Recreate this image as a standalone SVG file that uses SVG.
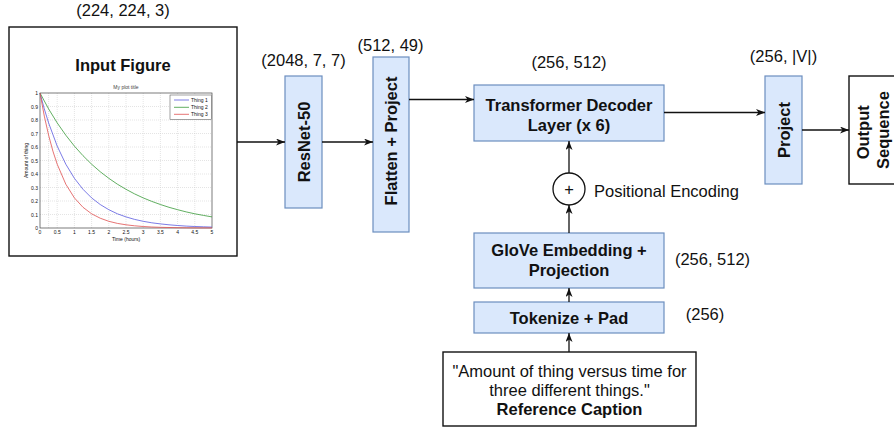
<svg xmlns="http://www.w3.org/2000/svg" width="894" height="427" viewBox="0 0 894 427">
  <style>
    text { font-family: "Liberation Sans", Arial, sans-serif; fill: #111; }
    .lbl { font-size: 16.5px; text-anchor: middle; }
    .b { font-weight: bold; }
    .blk { fill: #dae8fc; stroke: #6c8ebf; stroke-width: 1.2; }
    .wbox { fill: #fff; stroke: #111; stroke-width: 1.4; }
    .edge { fill: none; stroke: #111; stroke-width: 1.3; marker-end: url(#arrow); }
    .grid { stroke: #c8c8c8; stroke-width: 0.5; stroke-dasharray: 1 1; }
    .tick { font-size: 5px; fill: #444; }
    .curve { fill: none; stroke-width: 0.8; }
  </style>
  <defs>
    <marker id="arrow" markerUnits="userSpaceOnUse" markerWidth="10" markerHeight="8" refX="9" refY="3.5" orient="auto">
      <path d="M0,0 L9,3.5 L0,7 L2.5,3.5 Z" fill="#111"/>
    </marker>
  </defs>

  <!-- shape annotations -->
  <g id="shapes">
    <text class="lbl" x="123" y="16">(224, 224, 3)</text>
    <text class="lbl" x="303.5" y="66">(2048, 7, 7)</text>
    <text class="lbl" x="390.5" y="51">(512, 49)</text>
    <text class="lbl" x="569" y="68">(256, 512)</text>
    <text class="lbl" x="783.5" y="62">(256, |V|)</text>
    <text class="lbl" x="712.5" y="265">(256, 512)</text>
    <text class="lbl" x="705" y="320">(256)</text>
  </g>

  <!-- input image with sample plot -->
  <g id="input-figure">
    <rect class="wbox" x="9" y="27" width="228" height="229"/>
    <text class="lbl b" x="123" y="70.5">Input Figure</text>
    <text x="126" y="88.5" style="font-size:5px;fill:#444;text-anchor:middle">My plot title</text>
    <g>
      <line class="grid" x1="48.6" y1="93" x2="48.6" y2="228"/>
      <line class="grid" x1="57.2" y1="93" x2="57.2" y2="228"/>
      <line class="grid" x1="74.4" y1="93" x2="74.4" y2="228"/>
      <line class="grid" x1="91.6" y1="93" x2="91.6" y2="228"/>
      <line class="grid" x1="108.8" y1="93" x2="108.8" y2="228"/>
      <line class="grid" x1="126" y1="93" x2="126" y2="228"/>
      <line class="grid" x1="143.2" y1="93" x2="143.2" y2="228"/>
      <line class="grid" x1="160.4" y1="93" x2="160.4" y2="228"/>
      <line class="grid" x1="177.6" y1="93" x2="177.6" y2="228"/>
      <line class="grid" x1="194.8" y1="93" x2="194.8" y2="228"/>
      <line class="grid" x1="40" y1="214.5" x2="212" y2="214.5"/>
      <line class="grid" x1="40" y1="201" x2="212" y2="201"/>
      <line class="grid" x1="40" y1="187.5" x2="212" y2="187.5"/>
      <line class="grid" x1="40" y1="174" x2="212" y2="174"/>
      <line class="grid" x1="40" y1="160.5" x2="212" y2="160.5"/>
      <line class="grid" x1="40" y1="147" x2="212" y2="147"/>
      <line class="grid" x1="40" y1="133.5" x2="212" y2="133.5"/>
      <line class="grid" x1="40" y1="120" x2="212" y2="120"/>
      <line class="grid" x1="40" y1="106.5" x2="212" y2="106.5"/>
    </g>
    <rect x="40" y="93" width="172" height="135" fill="none" stroke="#444" stroke-width="0.7"/>
    <g class="tick" text-anchor="end">
      <text x="38" y="95">1</text>
      <text x="38" y="108.5">0.9</text>
      <text x="38" y="122">0.8</text>
      <text x="38" y="135.5">0.7</text>
      <text x="38" y="149">0.6</text>
      <text x="38" y="162.5">0.5</text>
      <text x="38" y="176">0.4</text>
      <text x="38" y="189.5">0.3</text>
      <text x="38" y="203">0.2</text>
      <text x="38" y="216.5">0.1</text>
      <text x="38" y="230">0</text>
    </g>
    <g class="tick" text-anchor="middle">
      <text x="40" y="234">0</text>
      <text x="57.2" y="234">0.5</text>
      <text x="74.4" y="234">1</text>
      <text x="91.6" y="234">1.5</text>
      <text x="108.8" y="234">2</text>
      <text x="126" y="234">2.5</text>
      <text x="143.2" y="234">3</text>
      <text x="160.4" y="234">3.5</text>
      <text x="177.6" y="234">4</text>
      <text x="194.8" y="234">4.5</text>
      <text x="212" y="234">5</text>
      <text x="126" y="241">Time (hours)</text>
      <text x="28" y="160.5" transform="rotate(-90 28 160.5)">Amount of thing</text>
    </g>
    <polyline class="curve" stroke="#5a5ae0" points="40,93 44.3,108.9 48.6,122.9 57.2,146.1 65.8,164.2 74.4,178.3 83,189.3 91.6,197.9 100.2,204.5 108.8,209.7 117.4,213.8 126,216.9 134.6,219.4 143.2,221.3 151.8,222.8 160.4,223.9 169,224.8 177.6,225.5 186.2,226.1 194.8,226.5 203.4,226.8 212,227.1"/>
    <polyline class="curve" stroke="#3a9a3a" points="40,93 48.6,108.9 57.2,122.9 65.8,135.2 74.4,146.1 83,155.7 91.6,164.2 100.2,171.7 108.8,178.3 117.4,184.2 126,189.3 134.6,193.9 143.2,197.9 151.8,201.4 160.4,204.5 169,207.3 177.6,209.7 186.2,211.9 194.8,213.8 203.4,215.4 212,216.9"/>
    <polyline class="curve" stroke="#e05050" points="40,93 44.3,116.1 48.6,135.2 52.9,151.1 57.2,164.2 65.8,184.2 74.4,197.9 83,207.3 91.6,213.8 100.2,218.2 108.8,221.3 117.4,223.4 126,224.8 134.6,225.8 143.2,226.5 151.8,227 160.4,227.3 169,227.5 177.6,227.7 186.2,227.8 194.8,227.9 212,227.9"/>
    <rect x="170" y="95" width="41.5" height="24.5" fill="#fff" stroke="#444" stroke-width="0.5"/>
    <line x1="174" y1="100" x2="189" y2="100" stroke="#5a5ae0" stroke-width="0.8"/>
    <line x1="174" y1="107.3" x2="189" y2="107.3" stroke="#3a9a3a" stroke-width="0.8"/>
    <line x1="174" y1="114.3" x2="189" y2="114.3" stroke="#e05050" stroke-width="0.8"/>
    <g class="tick">
      <text x="191" y="101.8">Thing 1</text>
      <text x="191" y="109">Thing 2</text>
      <text x="191" y="116">Thing 3</text>
    </g>
  </g>

  <g id="resnet">
    <rect class="blk" x="285" y="76" width="37" height="132"/>
    <text class="lbl b" x="303.5" y="148" transform="rotate(-90 303.5 142)">ResNet-50</text>
  </g>

  <g id="flatten-project">
    <rect class="blk" x="373" y="57" width="36" height="175"/>
    <text class="lbl b" x="391" y="147" transform="rotate(-90 391 141)">Flatten + Project</text>
  </g>

  <g id="transformer-decoder">
    <rect class="blk" x="474" y="85" width="190" height="56"/>
    <text class="lbl b" x="569" y="111">Transformer Decoder</text>
    <text class="lbl b" x="569" y="130.5">Layer (x 6)</text>
  </g>

  <g id="project">
    <rect class="blk" x="765" y="76" width="37" height="108"/>
    <text class="lbl b" x="783.5" y="136" transform="rotate(-90 783.5 130)">Project</text>
  </g>

  <g id="output-sequence">
    <rect class="wbox" x="849" y="76" width="60" height="108"/>
    <text class="lbl b" transform="rotate(-90 874 130)">
      <tspan x="874" y="124.5">Output</tspan>
      <tspan x="874" y="144.8">Sequence</tspan>
    </text>
  </g>

  <g id="positional-encoding">
    <circle cx="569" cy="189" r="16" fill="#fff" stroke="#111" stroke-width="1.3"/>
    <text class="lbl" x="569" y="194.5">+</text>
    <text x="594" y="196.5" style="font-size:16.5px">Positional Encoding</text>
  </g>

  <g id="glove-embedding">
    <rect class="blk" x="474" y="233" width="190" height="55"/>
    <text class="lbl b" x="569" y="256">GloVe Embedding +</text>
    <text class="lbl b" x="569" y="275.5">Projection</text>
  </g>

  <g id="tokenize-pad">
    <rect class="blk" x="474" y="302" width="190" height="31"/>
    <text class="lbl b" x="569" y="323.5">Tokenize + Pad</text>
  </g>

  <g id="reference-caption">
    <rect class="wbox" x="443" y="352" width="253" height="74"/>
    <text class="lbl" x="569.5" y="377">"Amount of thing versus time for</text>
    <text class="lbl" x="569.5" y="396">three different things."</text>
    <text class="lbl b" x="569.5" y="414.5">Reference Caption</text>
  </g>

  <!-- connectors -->
  <g id="connectors">
    <path class="edge" d="M237,142 L285,142"/>
    <path class="edge" d="M322,142 L373,142"/>
    <path class="edge" d="M409,99.5 L474,99.5"/>
    <path class="edge" d="M664,112.5 L765,112.5"/>
    <path class="edge" d="M802,130 L849,130"/>
    <path class="edge" d="M569,173 L569,141"/>
    <path class="edge" d="M569,233 L569,205"/>
    <path class="edge" d="M569,302 L569,288"/>
    <path class="edge" d="M569,352 L569,333"/>
  </g>
</svg>
